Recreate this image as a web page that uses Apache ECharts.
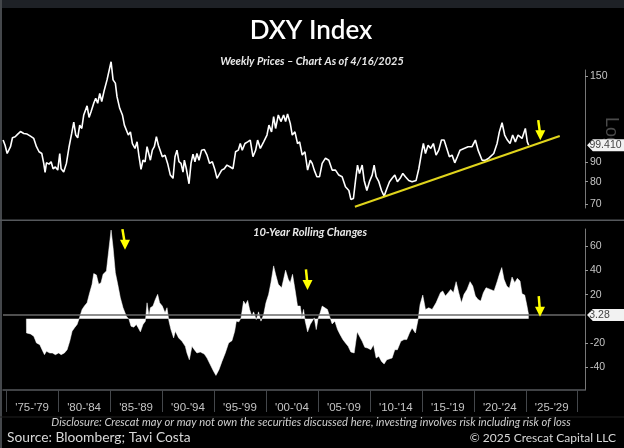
<!DOCTYPE html>
<html>
<head>
<meta charset="utf-8">
<style>html,body{margin:0;padding:0;background:#000}#chart{width:624px;height:448px}</style>
<script src="https://cdn.jsdelivr.net/npm/echarts@6/dist/echarts.min.js"></script>
</head>
<body>
<div id="chart"></div>
<script>
var priceYears = [1974.71,1974.90,1975.10,1975.29,1975.42,1975.61,1975.87,1976.12,1976.38,1976.70,1977.02,1977.34,1977.66,1977.92,1978.17,1978.43,1978.62,1978.75,1978.88,1979.13,1979.33,1979.52,1979.74,1979.97,1980.16,1980.29,1980.54,1980.80,1981.06,1981.31,1981.51,1981.70,1981.89,1982.08,1982.28,1982.47,1982.66,1982.79,1982.98,1983.17,1983.43,1983.62,1983.81,1984.01,1984.20,1984.45,1984.71,1984.90,1985.10,1985.29,1985.51,1985.67,1985.93,1986.19,1986.38,1986.57,1986.76,1986.96,1987.15,1987.40,1987.60,1987.79,1987.98,1988.17,1988.37,1988.56,1988.69,1988.88,1989.07,1989.26,1989.46,1989.65,1989.84,1990.03,1990.29,1990.54,1990.80,1991.06,1991.25,1991.44,1991.63,1991.83,1992.02,1992.15,1992.34,1992.60,1992.79,1992.98,1993.17,1993.36,1993.56,1993.81,1994.07,1994.33,1994.58,1994.84,1995.10,1995.29,1995.48,1995.74,1995.99,1996.25,1996.57,1996.83,1997.08,1997.34,1997.53,1997.72,1997.98,1998.24,1998.49,1998.75,1999.01,1999.20,1999.46,1999.78,2000.10,2000.29,2000.54,2000.74,2000.93,2001.19,2001.44,2001.70,2001.89,2002.08,2002.34,2002.53,2002.79,2003.04,2003.24,2003.49,2003.75,2004.01,2004.26,2004.45,2004.65,2004.90,2005.16,2005.41,2005.73,2006.05,2006.37,2006.69,2007.01,2007.33,2007.65,2007.98,2008.17,2008.42,2008.62,2008.81,2009.00,2009.26,2009.45,2009.71,2009.96,2010.22,2010.41,2010.60,2010.86,2011.12,2011.37,2011.63,2011.89,2012.14,2012.40,2012.65,2012.91,2013.17,2013.42,2013.74,2014.06,2014.45,2014.71,2014.96,2015.15,2015.35,2015.60,2015.86,2016.11,2016.37,2016.63,2016.89,2017.14,2017.40,2017.65,2017.91,2018.17,2018.42,2018.68,2019.06,2019.45,2019.83,2020.15,2020.41,2020.80,2021.12,2021.44,2021.92,2022.24,2022.46,2022.72,2022.97,2023.23,2023.49,2023.74,2024.00,2024.26,2024.64,2024.96,2025.15,2025.28];
var priceValues = [102.5,99.4,94.6,93.7,98.5,103.9,104.5,106.2,107.8,106.6,106.2,104.9,103.5,98.5,95.6,94.6,89.2,84.5,89.5,88.8,90.1,86.4,87.3,85.7,94.6,86.4,84.7,89.2,98.5,106.6,114.0,105.6,103.9,112.0,109.8,119.0,117.8,125.6,117.3,121.3,127.6,131.5,127.6,135.3,128.9,138.1,146.6,148.1,163.3,146.6,143.8,132.7,123.8,119.0,112.0,113.2,105.6,107.6,100.4,97.5,101.4,92.8,86.1,90.9,90.0,98.5,98.5,90.9,96.5,98.5,104.5,99.4,98.5,92.8,93.7,89.2,83.2,81.6,92.8,96.5,90.1,89.2,84.7,90.9,86.4,79.0,89.2,94.2,90.1,94.6,90.9,96.5,96.9,93.7,89.2,90.1,85.7,81.6,82.4,85.7,86.4,88.3,87.3,86.4,95.6,96.5,100.4,96.5,100.4,101.4,102.5,92.8,96.5,102.5,97.5,101.4,105.6,112.0,107.6,117.8,109.8,119.0,114.4,119.0,114.4,119.7,113.2,105.6,107.6,100.4,101.4,93.7,95.6,85.7,90.9,89.2,85.7,82.4,82.4,89.2,92.0,90.9,85.7,85.7,83.2,82.4,77.6,75.9,72.0,72.4,80.6,88.3,84.0,88.3,80.6,75.9,80.0,83.2,88.3,82.4,80.0,75.9,73.4,76.7,80.0,81.6,83.2,80.0,81.6,84.0,82.4,80.6,80.0,80.6,86.4,94.6,100.4,94.6,99.4,97.5,100.4,93.7,96.5,102.5,102.5,97.5,92.8,93.7,89.5,92.8,96.5,97.5,98.5,98.5,102.5,96.5,90.9,90.9,92.0,94.6,100.4,107.6,113.6,105.6,102.5,100.4,105.6,101.4,105.6,103.5,109.8,101.4,99.41];

var changeYears = [1976.95,1976.96,1977.34,1977.66,1977.92,1978.24,1978.46,1978.69,1978.88,1979.20,1979.45,1979.74,1980.06,1980.29,1980.61,1980.87,1981.12,1981.35,1981.57,1981.83,1982.05,1982.31,1982.53,1982.79,1983.04,1983.27,1983.43,1983.69,1983.91,1984.13,1984.33,1984.65,1984.87,1985.10,1985.29,1985.51,1985.74,1985.99,1986.25,1986.57,1986.83,1987.02,1987.28,1987.53,1987.72,1987.92,1988.17,1988.40,1988.56,1988.75,1988.88,1989.13,1989.36,1989.58,1989.77,1990.03,1990.29,1990.48,1990.67,1990.86,1991.12,1991.28,1991.60,1991.92,1992.24,1992.40,1992.63,1992.88,1993.11,1993.36,1993.68,1994.07,1994.33,1994.65,1994.97,1995.19,1995.48,1995.77,1996.09,1996.41,1996.73,1996.99,1997.15,1997.40,1997.60,1997.85,1998.04,1998.24,1998.43,1998.65,1998.81,1999.07,1999.29,1999.52,1999.78,2000.00,2000.26,2000.48,2000.74,2000.93,2001.19,2001.51,2001.70,2001.89,2002.15,2002.34,2002.56,2002.82,2003.04,2003.30,2003.46,2003.62,2003.78,2004.01,2004.26,2004.45,2004.65,2004.84,2005.03,2005.22,2005.41,2005.67,2005.92,2006.18,2006.37,2006.63,2006.89,2007.14,2007.40,2007.65,2007.91,2008.17,2008.49,2008.78,2009.00,2009.26,2009.51,2009.77,2010.09,2010.35,2010.60,2010.86,2011.12,2011.37,2011.63,2012.14,2012.40,2012.65,2012.98,2013.29,2013.55,2013.81,2014.06,2014.38,2014.64,2014.83,2015.09,2015.35,2015.67,2015.99,2016.37,2016.79,2017.01,2017.27,2017.53,2017.78,2018.04,2018.30,2018.55,2018.81,2019.06,2019.35,2019.64,2019.90,2020.15,2020.41,2020.67,2020.92,2021.18,2021.60,2021.95,2022.27,2022.46,2022.69,2022.91,2023.17,2023.42,2023.68,2023.94,2024.19,2024.45,2024.64,2024.90,2025.09,2025.28];
var changeValues = [0,-11.7,-12.5,-14.4,-20,-21.4,-25.6,-29.7,-26.9,-28.3,-28.3,-29.7,-28.3,-29.7,-28.3,-25.6,-18.6,-10.3,-7.5,-4.7,0.8,7.8,10.6,13.3,21.7,28.6,37.5,36.4,28.6,30,36.9,39.7,56.4,73.6,59.2,38.3,28.6,17.5,9.2,2.2,-0.6,-6.1,-6.9,-4.7,-7.5,-10.8,-4.7,-1.9,13.3,2.2,9.2,10.6,16.1,20.3,13.3,10.6,5,9.2,-1.9,-8.9,-15.8,-10.3,-15.8,-18.6,-22.8,-28.3,-33.9,-22.8,-25.6,-28.3,-27.5,-29.2,-32.5,-38.1,-43.6,-46.9,-42.2,-35.3,-28.3,-20,-18.1,-10.3,-1.9,-2.5,0.8,14.7,11.9,15.3,7.8,2.2,5.8,-0.6,5.8,-1.9,3.6,13.3,20.3,30,43.9,36.9,28.6,25.8,32.8,40.3,32.8,30,36.9,23.1,10.6,10.6,0.8,7.8,-1.9,-10.8,-4.7,-1.9,0.8,-8.9,0.8,5,10.6,9.2,7.8,0.8,-4.2,-1.9,-8.9,-13.1,-17.2,-20,-22.8,-27.5,-28.3,-10.8,-14.4,-18.6,-23.6,-24.2,-25.6,-21.4,-32.5,-31.1,-35.3,-37.5,-33.9,-32.5,-25.6,-25.6,-18.6,-17.2,-17.2,-11.7,-7.5,-11.7,-0.6,11.9,19.7,7.8,9.2,7.8,13.3,21.7,23.1,18.9,21.7,24.4,21.7,30.8,21.7,13.3,20.3,24.4,30.8,27.2,18.9,16.1,14.7,21.7,25.8,24.4,23.1,31.4,36.9,42.5,32.8,27.2,25.3,34.7,30,33.6,31.4,20.8,19.7,11.9,3.28];

var trendYears = [2008.56, 2028.27];
var trendValues = [68.9, 105];

var lastPrice = 99.41;
var lastChange = 3.28;

var periodStarts = [1975,1980,1985,1990,1995,2000,2005,2010,2015,2020,2025,2030];
var periodMids = [1977.5,1982.5,1987.5,1992.5,1997.5,2002.5,2007.5,2012.5,2017.5,2022.5,2027.5];
var periodLabels = ["'75-'79","'80-'84","'85-'89","'90-'94","'95-'99","'00-'04","'05-'09","'10-'14","'15-'19","'20-'24","'25-'29"];
var priceTicks = [70,80,90,150];
var changeTicks = [-40,-20,20,40,60];

var xMin = 1974.7, xMax = 2030.7;
var grey = '#55585c', labelColor = '#c4c4c4';
var textFont = 'Lato';

var zip = function (xs, ys) {
    return xs.map(function (x, i) { return [x, ys[i]]; });
};

// yellow arrows, from top to head, in data units
var arrow = function (x0, y0, x1, y1) {
    return [{
        coord: [x0, y0], symbol: 'none'
    }, {
        coord: [x1, y1], symbol: 'triangle', symbolSize: [10, 10], symbolRotate: 180
    }];
};
var arrowStyle = {
    silent: true, animation: false, symbol: ['none', 'arrow'], symbolSize: 10,
    label: {show: false},
    lineStyle: {color: '#ffff00', width: 2.5, type: 'solid'}
};

// last value chip on the right axis, points left at the axis
var chip = function (value, text, textShift) {
    return {
        silent: true, animation: false,
        data: [{
            coord: [xMax, value],
            symbol: 'path://M0 6L6 0H38V12H6Z',
            symbolSize: [37, 12],
            symbolKeepAspect: false,
            symbolOffset: [20.5, 0],
            itemStyle: {color: '#f2f2f2'},
            label: {
                show: true, position: 'inside', formatter: text, offset: [textShift, 0],
                color: '#444', fontSize: 10.5, fontFamily: 'Liberation Sans'
            }
        }]
    };
};

var xAxisBase = {
    type: 'value', min: xMin, max: xMax,
    splitLine: {show: false}
};

var option = {
    backgroundColor: '#000',
    animation: false,
    title: [
        {text: 'DXY Index', left: 311, top: 18, padding: 0, textAlign: 'center',
            textStyle: {color: '#fff', fontSize: 26, fontWeight: 600, fontFamily: textFont}},
        {text: 'Weekly Prices \u2013 Chart As of 4/16/2025', left: 312, top: 56, padding: 0, textAlign: 'center',
            textStyle: {color: '#e8e8e8', fontSize: 11, fontWeight: 'bold', fontStyle: 'italic', fontFamily: textFont}},
        {text: '10-Year Rolling Changes', left: 310, top: 227, padding: 0, textAlign: 'center',
            textStyle: {color: '#e8e8e8', fontSize: 11.2, fontWeight: 'bold', fontStyle: 'italic', fontFamily: textFont}},
        {text: 'Disclosure: Crescat may or may not own the securities discussed here, investing involves risk including risk of loss',
            left: 311, top: 417, padding: 0, textAlign: 'center',
            textStyle: {color: '#cfcfcf', fontSize: 11.2, fontWeight: 'normal', fontStyle: 'italic', fontFamily: textFont}},
        {text: 'Source: Bloomberg; Tavi Costa', left: 7, top: 431, padding: 0,
            textStyle: {color: '#d8d8d8', fontSize: 13.8, fontWeight: 'normal', fontFamily: textFont}},
        {text: '\u00a9 2025 Crescat Capital LLC', right: 8, top: 432, padding: 0,
            textStyle: {color: '#d8d8d8', fontSize: 12, fontWeight: 'normal', fontFamily: textFont}}
    ],
    graphic: [
        {type: 'rect', shape: {x: 0, y: 0, width: 624, height: 8}, style: {fill: '#1e2126'}},
        {type: 'rect', shape: {x: 0, y: 0, width: 2, height: 448}, style: {fill: '#44474b'}},
        {type: 'rect', shape: {x: 0, y: 219.5, width: 624, height: 1.5}, style: {fill: grey}},
        {type: 'rect', shape: {x: 0, y: 416.5, width: 624, height: 1}, style: {fill: '#202020'}},
        {type: 'text', x: 620, y: 117, rotation: -Math.PI / 2,
            style: {text: 'Log', fill: '#4a4a4a', fontSize: 18, fontFamily: 'Liberation Sans'}}
    ],
    grid: [
        {left: 3, right: 39, top: 70, height: 138},
        {left: 3, right: 39, top: 229, height: 161}
    ],
    xAxis: [
        Object.assign({gridIndex: 0, axisLine: {show: false}, axisTick: {show: false}, axisLabel: {show: false}}, xAxisBase),
        Object.assign({
            gridIndex: 1,
            axisLine: {onZero: false, lineStyle: {color: grey, width: 1.5}},
            axisTick: {length: 22, customValues: periodStarts, lineStyle: {color: '#44474b'}},
            axisLabel: {
                customValues: periodMids, margin: 12, color: labelColor, fontSize: 11.5,
                fontFamily: 'Liberation Sans',
                formatter: function (v) { return periodLabels[periodMids.indexOf(v)]; }
            }
        }, xAxisBase)
    ],
    yAxis: [
        {
            type: 'log', gridIndex: 0, position: 'right', logBase: 10, min: 68.4, max: 155.5,
            splitLine: {show: false}, minorTick: {show: false},
            axisLine: {show: true, lineStyle: {color: '#777'}},
            axisTick: {length: 3, customValues: priceTicks, lineStyle: {color: '#999'}},
            axisLabel: {customValues: priceTicks, margin: 5, color: labelColor, fontSize: 10.5, fontFamily: 'Liberation Sans'}
        },
        {
            type: 'value', gridIndex: 1, position: 'right', min: -59, max: 74.5,
            splitLine: {show: false},
            axisLine: {show: true, onZero: false, lineStyle: {color: '#777'}},
            axisTick: {length: 3, customValues: changeTicks, lineStyle: {color: '#999'}},
            axisLabel: {customValues: changeTicks, margin: 5, color: labelColor, fontSize: 10.5, fontFamily: 'Liberation Sans'}
        }
    ],
    series: [
        {
            name: 'DXY', type: 'line', xAxisIndex: 0, yAxisIndex: 0, symbol: 'none', clip: false,
            data: zip(priceYears, priceValues),
            lineStyle: {color: '#fff', width: 1.6},
            markPoint: chip(lastPrice, '99.410', 0),
            markLine: Object.assign({
                data: [arrow(2026.2, 115.4, 2026.4, 105.5)]
            }, arrowStyle)
        },
        {
            name: 'Trend', type: 'line', xAxisIndex: 0, yAxisIndex: 0, symbol: 'none',
            data: zip(trendYears, trendValues),
            lineStyle: {color: '#e0d41c', width: 2}
        },
        {
            name: '10-Year Rolling Changes', type: 'line', xAxisIndex: 1, yAxisIndex: 1, symbol: 'none',
            data: zip(changeYears, changeValues),
            lineStyle: {color: '#fff', width: 0.5},
            areaStyle: {color: '#fff', opacity: 1},
            markPoint: chip(lastChange, '3.28', -6),
            markLine: Object.assign({
                data: [
                    [{coord: [xMin, lastChange], symbol: 'none', lineStyle: {color: '#6a6a6a', width: 1.5}},
                     {coord: [xMax, lastChange], symbol: 'none'}],
                    arrow(1986.19, 74.4, 1986.44, 61.4),
                    arrow(2003.85, 41.1, 2004.0, 28),
                    arrow(2026.25, 18.9, 2026.37, 5.8)
                ]
            }, arrowStyle)
        }
    ]
};

var myChart = echarts.init(document.getElementById('chart'), null, {renderer: 'canvas'});
myChart.setOption(option);
</script>
</body>
</html>
